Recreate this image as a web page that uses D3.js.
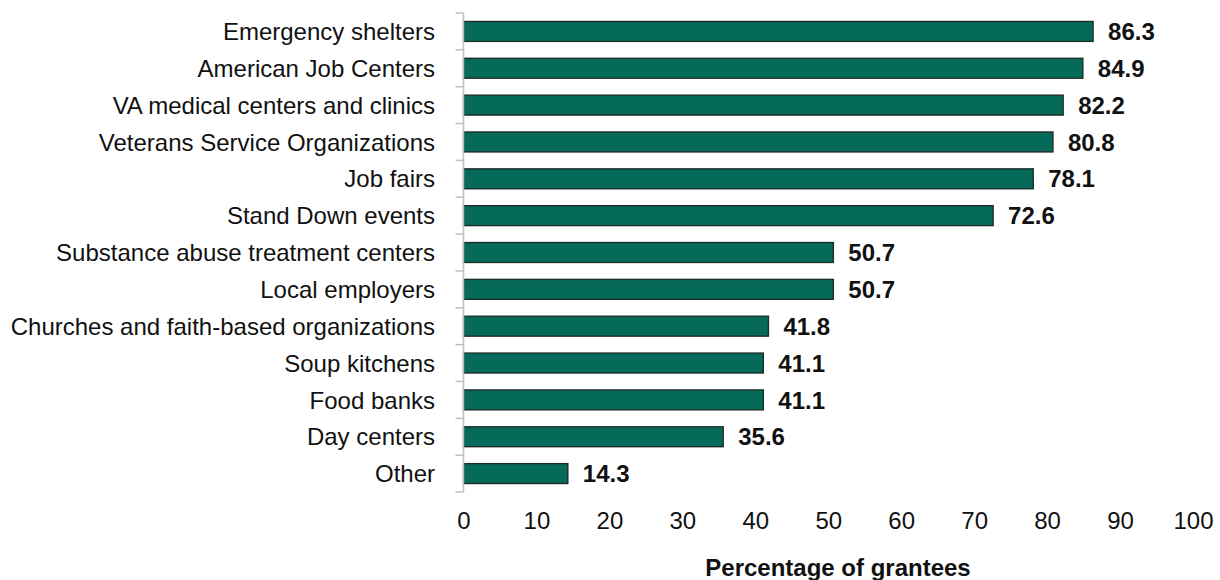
<!DOCTYPE html>
<html>
<head>
<meta charset="utf-8">
<script src="https://cdn.jsdelivr.net/npm/d3@7"></script>
<style>
  html, body { margin: 0; padding: 0; background: #fff; }
  svg { display: block; font-family: Arial, "Liberation Sans", sans-serif; }
</style>
</head>
<body>
<svg id="chart" width="1220" height="580"></svg>
<script>
// Outreach partners used by grantees (percentage of grantees)
const categories = [
  "Emergency shelters",
  "American Job Centers",
  "VA medical centers and clinics",
  "Veterans Service Organizations",
  "Job fairs",
  "Stand Down events",
  "Substance abuse treatment centers",
  "Local employers",
  "Churches and faith-based organizations",
  "Soup kitchens",
  "Food banks",
  "Day centers",
  "Other"
];
const values = [86.3, 84.9, 82.2, 80.8, 78.1, 72.6, 50.7, 50.7, 41.8, 41.1, 41.1, 35.6, 14.3];
const xTicks = [0, 10, 20, 30, 40, 50, 60, 70, 80, 90, 100];
const xTitle = "Percentage of grantees";

const svg = d3.select("#chart");
const margin = { top: 13, left: 463.5, right: 27, bottom: 88 };
const W = 1220, H = 580;
const FS = 24;

const x = d3.scaleLinear().domain([0, 100]).range([margin.left, W - margin.right]);
const y = d3.scaleBand().domain(categories).range([margin.top, H - margin.bottom]).paddingInner(0.46).paddingOuter(0.23);

// Bars
svg.append("g").selectAll("rect")
  .data(categories)
  .join("rect")
  .attr("x", x(0))
  .attr("y", d => y(d))
  .attr("width", (d, i) => x(values[i]) - x(0))
  .attr("height", y.bandwidth())
  .attr("fill", "#066a5a")
  .attr("stroke", "#1c2e28")
  .attr("stroke-width", 1.4);

// Value labels
svg.append("g").selectAll("text")
  .data(categories)
  .join("text")
  .attr("x", (d, i) => x(values[i]) + 15)
  .attr("y", d => y(d) + y.bandwidth() / 2)
  .attr("dy", "0.36em")
  .attr("font-size", FS)
  .attr("font-weight", "bold")
  .attr("fill", "#111")
  .text((d, i) => values[i].toFixed(1));

// Category axis: grey spine with ticks at band boundaries
const yAxis = svg.append("g");
const plotTop = margin.top, plotBottom = H - margin.bottom;
const step = (plotBottom - plotTop) / categories.length;
yAxis.append("line")
  .attr("x1", x(0)).attr("x2", x(0))
  .attr("y1", plotTop).attr("y2", plotBottom)
  .attr("stroke", "#bfbfbf").attr("stroke-width", 1.5);
yAxis.selectAll("line.tick")
  .data(d3.range(categories.length + 1))
  .join("line")
  .attr("class", "tick")
  .attr("x1", x(0) - 8).attr("x2", x(0))
  .attr("y1", i => plotTop + i * step).attr("y2", i => plotTop + i * step)
  .attr("stroke", "#bfbfbf").attr("stroke-width", 1.5);
yAxis.selectAll("text")
  .data(categories)
  .join("text")
  .attr("x", 435)
  .attr("y", d => y(d) + y.bandwidth() / 2)
  .attr("dy", "0.36em")
  .attr("text-anchor", "end")
  .attr("font-size", FS)
  .attr("fill", "#111")
  .text(d => d);

// Value axis labels (no line)
const xAxis = d3.axisBottom(x).tickValues(xTicks).tickSize(0).tickPadding(0).tickFormat(d3.format("d"));
const gx = svg.append("g").attr("transform", "translate(0, 512)").call(xAxis);
gx.select(".domain").remove();
gx.selectAll("text")
  .attr("font-size", FS)
  .attr("font-family", "Arial, 'Liberation Sans', sans-serif")
  .attr("fill", "#111")
  .attr("dy", "0.36em")
  .attr("y", 8);

// Axis title
svg.append("text")
  .attr("x", 838)
  .attr("y", 567)
  .attr("dy", "0.36em")
  .attr("text-anchor", "middle")
  .attr("font-size", FS)
  .attr("font-weight", "bold")
  .attr("fill", "#111")
  .text(xTitle);
</script>
</body>
</html>
